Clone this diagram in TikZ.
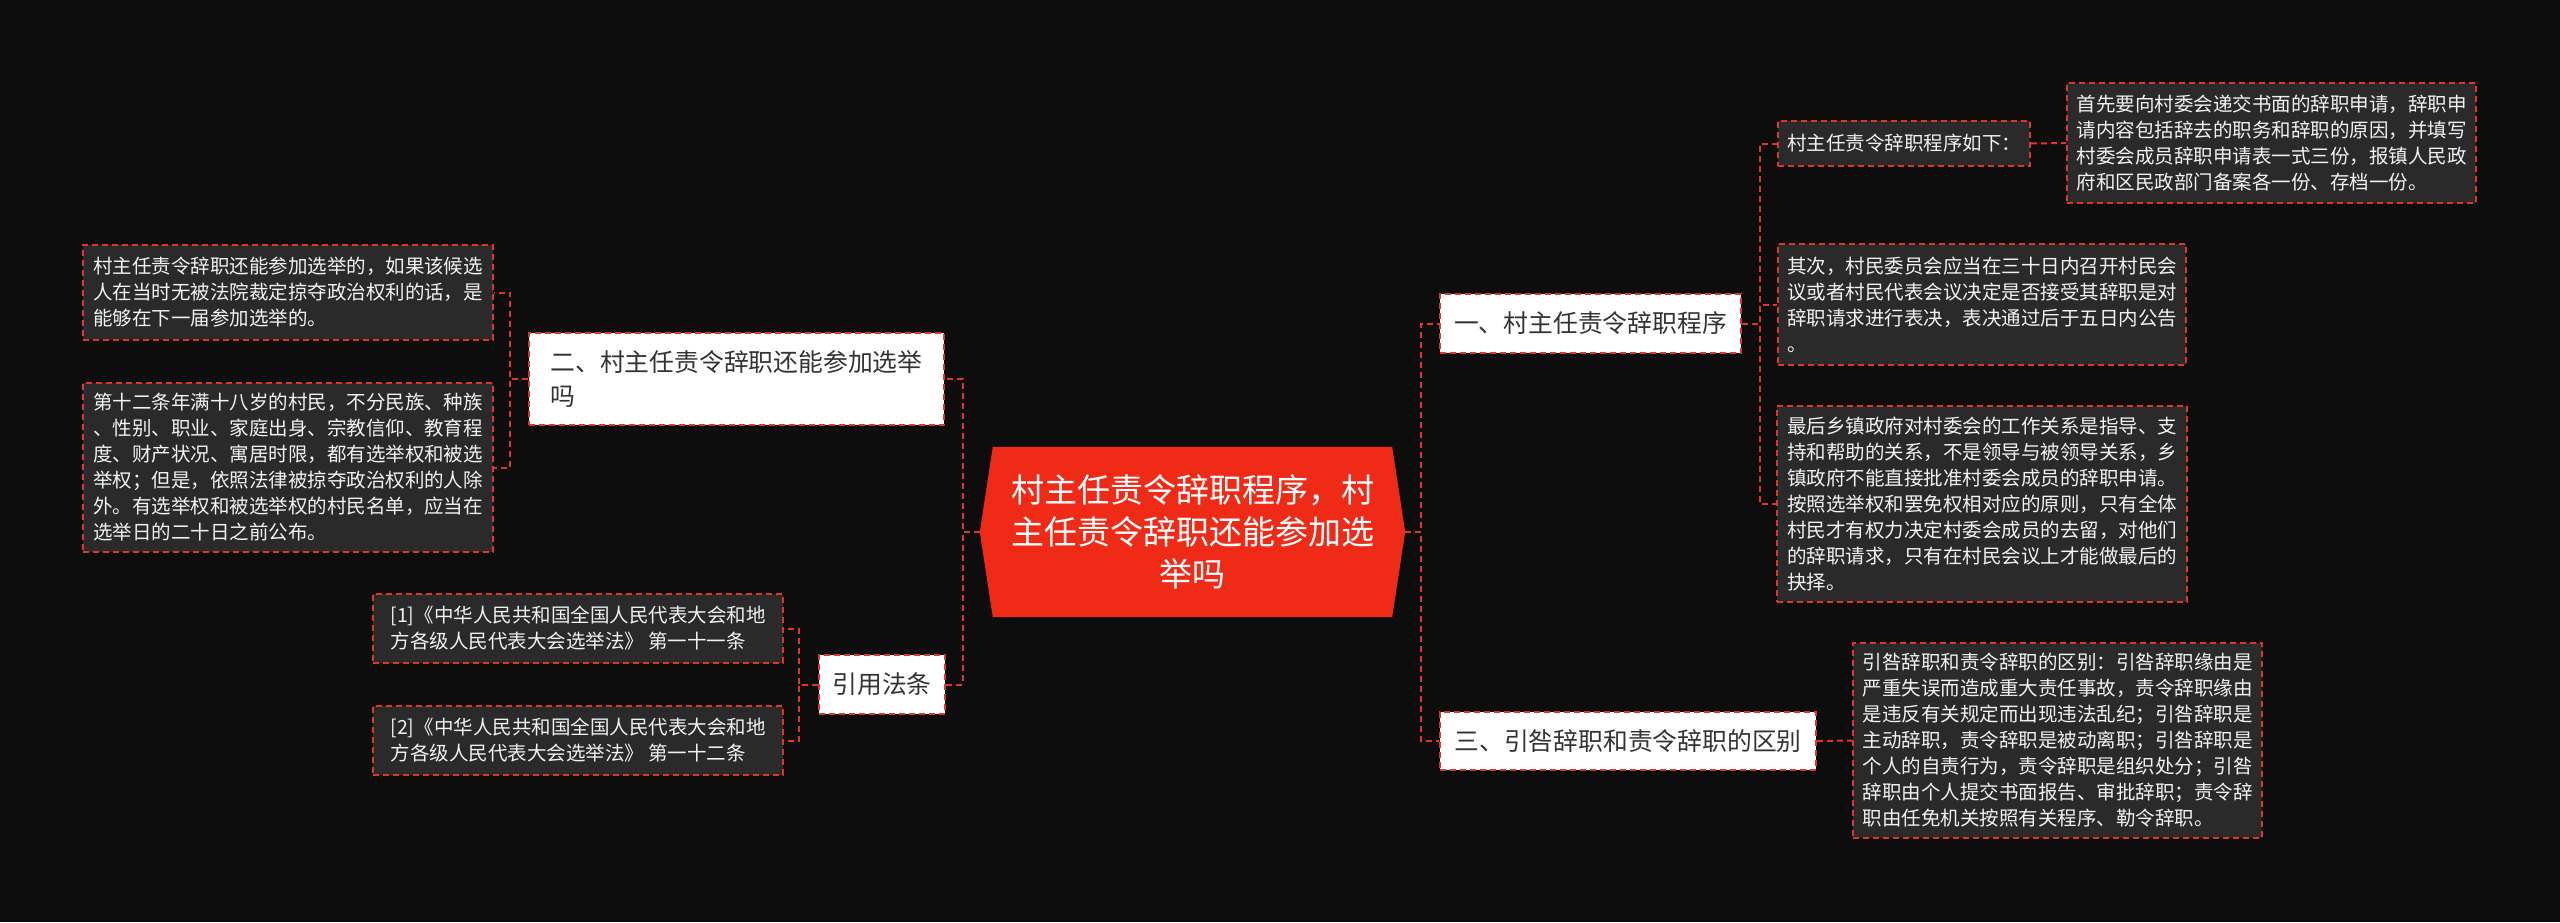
\documentclass[tikz,border=0pt]{standalone}
\usepackage{fontspec}
\newfontfamily\cjk{Noto Sans CJK SC}
\usetikzlibrary{backgrounds}
\definecolor{bgc}{HTML}{0D0D0D}
\definecolor{leaffill}{HTML}{2A2A2A}
\definecolor{linered}{HTML}{E3342A}
\definecolor{rootred}{HTML}{EF2B18}
\definecolor{branchtext}{HTML}{333333}
\definecolor{leaftext}{HTML}{F2F2F2}
\begin{document}
\begin{tikzpicture}[x=1pt,y=-1pt,
  conn/.style={draw=linered,line width=2pt,dash pattern=on 6pt off 4pt},
  rootbox/.style={inner sep=0pt,minimum width=425pt,minimum height=170pt,align=center,text=white,
    font={\cjk\fontsize{33}{42}\selectfont}},
  branchbox/.style={draw=linered,line width=2pt,dash pattern=on 6pt off 4pt,fill=white,inner sep=0pt,
    align=left,text=branchtext,font={\cjk\fontsize{24.8}{34}\selectfont}},
  leafbox/.style={draw=linered,line width=2pt,dash pattern=on 6pt off 4pt,fill=leaffill,inner sep=0pt,
    align=left,text=leaftext,font={\cjk\fontsize{19.5}{26}\selectfont}}]
\useasboundingbox (0,0) rectangle (2560,922);

% root
\node[rootbox] (root) at (1192.5,532) {村主任责令辞职程序，村\\主任责令辞职还能参加选\\举吗};

% branches
\node[branchbox,minimum width=415pt,minimum height=92pt] (br2) at (736.5,379)
  {二、村主任责令辞职还能参加选举\\吗};
\node[branchbox,minimum width=126pt,minimum height=59pt] (cite) at (882,684.5) {引用法条};
\node[branchbox,minimum width=301pt,minimum height=59pt] (br1) at (1590.5,323.5) {一、村主任责令辞职程序};
\node[branchbox,minimum width=376pt,minimum height=58pt] (br3) at (1628,741) {三、引咎辞职和责令辞职的区别};

% left leaves
\node[leafbox,minimum width=410pt,minimum height=95pt] (L1) at (288,292.5)
  {村主任责令辞职还能参加选举的，如果该候选\\人在当时无被法院裁定掠夺政治权利的话，是\\能够在下一届参加选举的。};
\node[leafbox,minimum width=410pt,minimum height=169pt] (L2) at (288,467.5)
  {第十二条年满十八岁的村民，不分民族、种族\\、性别、职业、家庭出身、宗教信仰、教育程\\度、财产状况、寓居时限，都有选举权和被选\\举权；但是，依照法律被掠夺政治权利的人除\\外。有选举权和被选举权的村民名单，应当在\\选举日的二十日之前公布。};
\node[leafbox,minimum width=410pt,minimum height=69pt] (C1) at (578,628.5)
  {[1]《中华人民共和国全国人民代表大会和地\\方各级人民代表大会选举法》 第一十一条};
\node[leafbox,minimum width=410pt,minimum height=69pt] (C2) at (578,740.5)
  {[2]《中华人民共和国全国人民代表大会和地\\方各级人民代表大会选举法》 第一十二条};

% right leaves
\node[leafbox,minimum width=252pt,minimum height=45pt] (R0) at (1904,143.5) {村主任责令辞职程序如下：};
\node[leafbox,minimum width=409pt,minimum height=120pt] (R0a) at (2271.5,143)
  {首先要向村委会递交书面的辞职申请，辞职申\\请内容包括辞去的职务和辞职的原因，并填写\\村委会成员辞职申请表一式三份，报镇人民政\\府和区民政部门备案各一份、存档一份。};
\node[leafbox,minimum width=408pt,minimum height=121pt] (R1) at (1982,304.5)
  {其次，村民委员会应当在三十日内召开村民会\\议或者村民代表会议决定是否接受其辞职是对\\辞职请求进行表决，表决通过后于五日内公告\\。};
\node[leafbox,minimum width=410pt,minimum height=196pt] (R2) at (1982,504)
  {最后乡镇政府对村委会的工作关系是指导、支\\持和帮助的关系，不是领导与被领导关系，乡\\镇政府不能直接批准村委会成员的辞职申请。\\按照选举权和罢免权相对应的原则，只有全体\\村民才有权力决定村委会成员的去留，对他们\\的辞职请求，只有在村民会议上才能做最后的\\抉择。};
\node[leafbox,minimum width=409pt,minimum height=195pt] (R3) at (2057.5,740.5)
  {引咎辞职和责令辞职的区别：引咎辞职缘由是\\严重失误而造成重大责任事故，责令辞职缘由\\是违反有关规定而出现违法乱纪；引咎辞职是\\主动辞职，责令辞职是被动离职；引咎辞职是\\个人的自责行为，责令辞职是组织处分；引咎\\辞职由个人提交书面报告、审批辞职；责令辞\\职由任免机关按照有关程序、勒令辞职。};

% background and root hexagon
\begin{pgfonlayer}{background}
  \fill[bgc] (0,0) rectangle (2560,922);
  \fill[rootred] ([xshift=13pt]root.north west) -- (root.west) -- ([xshift=13pt]root.south west)
    -- ([xshift=-13pt]root.south east) -- (root.east) -- ([xshift=-13pt]root.north east) -- cycle;
\end{pgfonlayer}

% connectors
\draw[conn] (root.west) -- ++(-17,0) |- (br2.east);
\draw[conn] (root.west) -- ++(-17,0) |- (cite.east);
\draw[conn] (root.east) -- ++(16,0) |- (br1.west);
\draw[conn] (root.east) -- ++(16,0) |- (br3.west);
\draw[conn] (br2.west) -- ++(-18,0) |- (L1.east);
\draw[conn] (br2.west) -- ++(-18,0) |- (L2.east);
\draw[conn] (cite.west) -- ++(-19,0) |- (C1.east);
\draw[conn] (cite.west) -- ++(-19,0) |- (C2.east);
\draw[conn] (br1.east) -- ++(18,0) |- (R0.west);
\draw[conn] (br1.east) -- ++(18,0) |- (R1.west);
\draw[conn] (br1.east) -- ++(18,0) |- (R2.west);
\draw[conn] (R0.east) -- (R0a.west);
\draw[conn] (br3.east) -- (R3.west);
\end{tikzpicture}
\end{document}
